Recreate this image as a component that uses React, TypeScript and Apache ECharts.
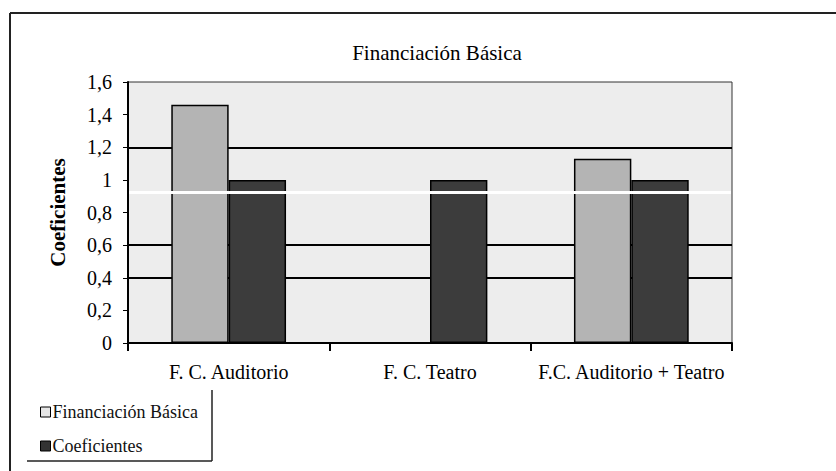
import React, { useEffect, useRef } from "react";
import * as echarts from "echarts";

const categories = ["F. C. Auditorio", "F. C. Teatro", "F.C. Auditorio + Teatro"];
const financiacionBasica = [1.46, 0, 1.13];
const coeficientes = [1.0, 1.0, 1.0];
const seriesNames = ["Financiación Básica", "Coeficientes"];
const titleText = "Financiación Básica";
const yAxisName = "Coeficientes";

const FONT = "Liberation Serif";

export default function App() {
  const ref = useRef<HTMLDivElement>(null);
  useEffect(() => {
    if (!ref.current) return;
    const chart = echarts.init(ref.current, null, { renderer: "svg" });
    const gridColors = [
      "transparent", // 0
      "transparent", // 0.2
      "#000", // 0.4
      "#000", // 0.6
      "transparent", // 0.8
      "transparent", // 1.0
      "#000", // 1.2
      "transparent", // 1.4
      "transparent", // 1.6
    ];
    chart.setOption({
      animation: false,
      backgroundColor: "#fff",
      title: {
        text: titleText,
        left: 432,
        textAlign: "center",
        top: 37,
        textStyle: { fontFamily: FONT, fontSize: 21, fontWeight: "normal", color: "#000" },
      },
      legend: {
        orient: "vertical",
        left: 35,
        top: 398,
        itemWidth: 10,
        itemHeight: 10,
        itemGap: 16,
        icon: "rect",
        textStyle: { fontFamily: FONT, fontSize: 18, color: "#111", padding: [0, 0, 0, -3] },
        data: [
          { name: seriesNames[0], itemStyle: { color: "#e6e6e6", borderColor: "#000", borderWidth: 1 } },
          { name: seriesNames[1], itemStyle: { color: "#333", borderColor: "#000", borderWidth: 1 } },
        ],
      },
      grid: {
        left: 128,
        right: 104,
        top: 82,
        bottom: 128,
        show: true,
        backgroundColor: "#ededed",
        borderColor: "#333",
        borderWidth: 1,
      },
      xAxis: {
        type: "category",
        data: categories,
        axisLine: { show: true, lineStyle: { color: "#000", width: 2 } },
        axisTick: { show: true, length: 8, lineStyle: { color: "#000", width: 2 } },
        axisLabel: { fontFamily: FONT, fontSize: 20, color: "#000", margin: 19, interval: 0 },
      },
      yAxis: {
        type: "value",
        min: 0,
        max: 1.6,
        interval: 0.2,
        name: yAxisName,
        nameLocation: "middle",
        nameGap: 60,
        nameTextStyle: { fontFamily: FONT, fontSize: 21, fontWeight: "bold", color: "#000" },
        axisLine: { show: true, lineStyle: { color: "#000", width: 2 } },
        axisTick: { show: true, length: 5, lineStyle: { color: "#000" } },
        axisLabel: {
          fontFamily: FONT,
          fontSize: 20,
          color: "#000",
          margin: 16,
          formatter: (v: number) => String(Math.round(v * 10) / 10).replace(".", ","),
        },
        splitLine: { show: true, lineStyle: { color: gridColors, width: 2 } },
      },
      series: [
        {
          name: seriesNames[0],
          type: "bar",
          data: financiacionBasica,
          barGap: "0%",
          barCategoryGap: "43%",
          itemStyle: { color: "#b4b4b4", borderColor: "#000", borderWidth: 1.5 },
        },
        {
          name: seriesNames[1],
          type: "bar",
          data: coeficientes,
          itemStyle: { color: "#3c3c3c", borderColor: "#000", borderWidth: 1.5 },
        },
      ],
      graphic: [
        { type: "line", shape: { x1: 10, y1: 13, x2: 836, y2: 13 }, style: { stroke: "#222", lineWidth: 2 } },
        { type: "line", shape: { x1: 10, y1: 13, x2: 10, y2: 471 }, style: { stroke: "#222", lineWidth: 2 } },
        { type: "line", shape: { x1: 212, y1: 390, x2: 212, y2: 461 }, style: { stroke: "#222", lineWidth: 1.5 } },
        { type: "line", shape: { x1: 27, y1: 461, x2: 212, y2: 461 }, style: { stroke: "#222", lineWidth: 1.5 } },
        { type: "rect", shape: { x: 129, y: 191, width: 602, height: 3 }, style: { fill: "#fff" }, z: 100 },
      ],
    });
    return () => chart.dispose();
  }, []);
  return (
    <div
      ref={ref}
      style={{ position: "absolute", left: 0, top: 0, width: 836, height: 471 }}
    />
  );
}
